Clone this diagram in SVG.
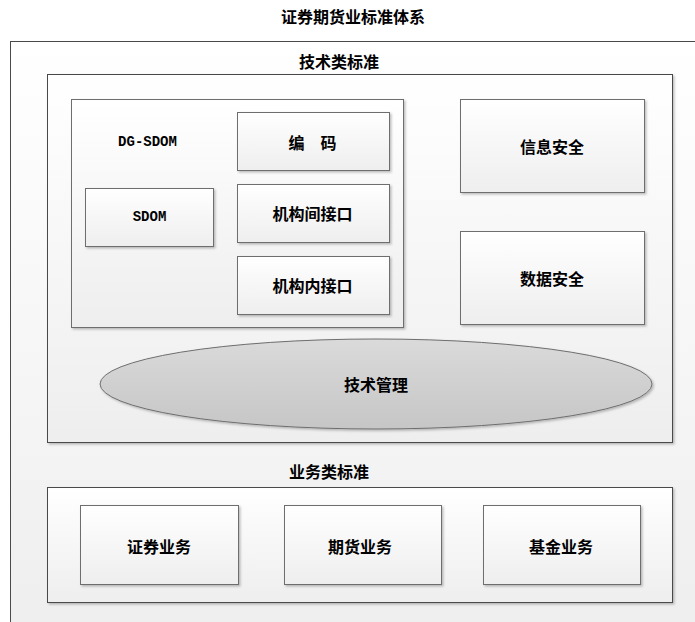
<svg xmlns="http://www.w3.org/2000/svg" width="695" height="622" viewBox="0 0 695 622">
<defs>
<linearGradient id="g" x1="0" y1="0" x2="0" y2="1"><stop offset="0" stop-color="#ffffff"/><stop offset="1" stop-color="#eeeeee"/></linearGradient>
<linearGradient id="ge" x1="0" y1="0" x2="0" y2="1"><stop offset="0" stop-color="#dadada"/><stop offset="1" stop-color="#c6c6c6"/></linearGradient>
<filter id="sh" x="-5%" y="-5%" width="110%" height="115%"><feDropShadow dx="1.5" dy="1.5" stdDeviation="0.8" flood-color="#000" flood-opacity="0.25"/></filter>
</defs>
<style>
.box{fill:url(#g);stroke:#6e6e6e;stroke-width:1;filter:url(#sh)}
.frame{fill:url(#g);stroke:#4a4a4a;stroke-width:1}
.t{font-family:"Noto Sans CJK SC","Liberation Sans",sans-serif;font-size:16px;font-weight:bold;fill:#000;text-anchor:middle;dominant-baseline:central}
.m{font-family:"Liberation Mono","Noto Sans CJK SC",monospace;font-size:14px;font-weight:bold;fill:#000;text-anchor:middle;dominant-baseline:central}
</style>
<rect width="695" height="622" fill="#ffffff"/>
<text class="t" x="353" y="16">证券期货业标准体系</text>
<g id="outer">
<rect class="frame" x="10.5" y="41.5" width="700" height="600"/>
</g>
<g id="tech">
<rect class="frame" x="47.5" y="74.5" width="625" height="368" filter="url(#sh)"/>
<text class="t" x="339" y="61">技术类标准</text>
</g>
<g id="dgsdom">
<rect class="box" x="71.5" y="99.5" width="332" height="228"/>
<text class="m" x="147.5" y="142">DG-SDOM</text>
</g>
<g id="sdom">
<rect class="box" x="85.5" y="188.5" width="128" height="58"/>
<text class="m" x="149.5" y="217">SDOM</text>
</g>
<g id="bianma">
<rect class="box" x="237.5" y="112.5" width="152" height="58"/>
<text class="t" x="312.5" y="142">编　码</text>
</g>
<g id="jgjjk">
<rect class="box" x="237.5" y="184.5" width="152" height="58"/>
<text class="t" x="312.5" y="213">机构间接口</text>
</g>
<g id="jgnjk">
<rect class="box" x="237.5" y="256.5" width="152" height="58"/>
<text class="t" x="312.5" y="285">机构内接口</text>
</g>
<g id="xxaq">
<rect class="box" x="460.5" y="99.5" width="184" height="93"/>
<text class="t" x="552" y="146">信息安全</text>
</g>
<g id="sjaq">
<rect class="box" x="460.5" y="231.5" width="184" height="93"/>
<text class="t" x="552" y="278">数据安全</text>
</g>
<g id="jsgl">
<ellipse cx="376" cy="384" rx="276" ry="45" fill="url(#ge)" stroke="#6e6e6e" filter="url(#sh)"/>
<text class="t" x="376" y="384">技术管理</text>
</g>
<g id="business">
<rect class="frame" x="47.5" y="487.5" width="625" height="115" filter="url(#sh)"/>
<text class="t" x="329" y="471">业务类标准</text>
</g>
<g id="zqyw">
<rect class="box" x="80.5" y="505.5" width="158" height="79"/>
<text class="t" x="159" y="546">证券业务</text>
</g>
<g id="qhyw">
<rect class="box" x="284.5" y="505.5" width="157" height="79"/>
<text class="t" x="360" y="546">期货业务</text>
</g>
<g id="jjyw">
<rect class="box" x="483.5" y="505.5" width="157" height="79"/>
<text class="t" x="561" y="546">基金业务</text>
</g>
<g id="connectors"></g>
</svg>
